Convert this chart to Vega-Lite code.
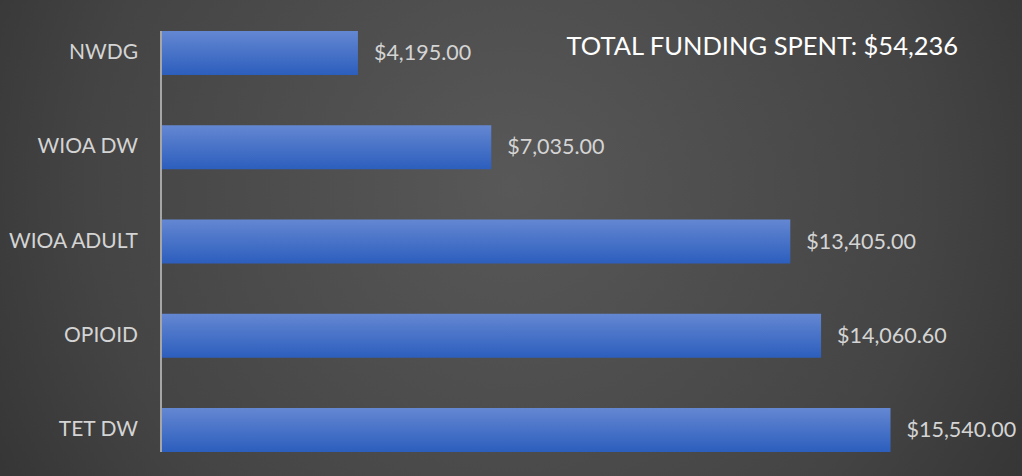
{
  "$schema": "https://vega.github.io/schema/vega-lite/v6.json",
  "width": 1022,
  "height": 476,
  "autosize": {"type": "none"},
  "padding": 0,
  "background": "#2a2a2a",
  "view": {
    "stroke": null,
    "fill": {
      "gradient": "radial",
      "x1": 0.5, "y1": 0.45, "r1": 0,
      "x2": 0.5, "y2": 0.45, "r2": 0.75,
      "stops": [
        {"offset": 0, "color": "#585858"},
        {"offset": 0.55, "color": "#444444"},
        {"offset": 1, "color": "#262626"}
      ]
    }
  },
  "data": {
    "values": [
      {"program": "NWDG", "amount": 4195.00},
      {"program": "WIOA DW", "amount": 7035.00},
      {"program": "WIOA ADULT", "amount": 13405.00},
      {"program": "OPIOID", "amount": 14060.60},
      {"program": "TET DW", "amount": 15540.00}
    ]
  },
  "encoding": {
    "y": {
      "field": "program",
      "type": "nominal",
      "sort": null,
      "scale": {"range": [6, 477], "paddingInner": 0.533, "paddingOuter": 0.2665},
      "axis": null
    }
  },
  "layer": [
    {
      "mark": {
        "type": "bar",
        "fill": {
          "gradient": "linear",
          "x1": 0, "y1": 0, "x2": 0, "y2": 1,
          "stops": [
            {"offset": 0, "color": "#6487d2"},
            {"offset": 1, "color": "#2c5ebd"}
          ]
        }
      },
      "encoding": {
        "x": {
          "field": "amount",
          "type": "quantitative",
          "scale": {"domain": [0, 18000], "range": [161, 1006], "nice": false},
          "axis": null
        }
      }
    },
    {
      "mark": {"type": "text", "align": "left", "baseline": "middle", "dx": 16, "dy": 1, "font": "Lato", "fontSize": 21.5, "color": "#d4d4d4"},
      "encoding": {
        "x": {"field": "amount", "type": "quantitative"},
        "text": {"field": "amount", "type": "quantitative", "format": "$,.2f"}
      }
    },
    {
      "mark": {"type": "text", "align": "right", "baseline": "middle", "dx": -23, "font": "Lato", "fontSize": 21, "color": "#d4d4d4"},
      "encoding": {
        "x": {"datum": 0, "type": "quantitative"},
        "text": {"field": "program"}
      }
    },
    {
      "data": {"values": [{"label": "TOTAL FUNDING SPENT: $54,236", "pos": 8640, "program": "NWDG"}]},
      "mark": {"type": "text", "align": "left", "baseline": "middle", "dy": -6, "font": "Lato", "fontSize": 25.5, "color": "#ffffff"},
      "encoding": {
        "x": {"field": "pos", "type": "quantitative"},
        "text": {"field": "label"}
      }
    },
    {
      "data": {"values": [{"v": 0}]},
      "mark": {"type": "rule", "color": "#a6a6a6", "strokeWidth": 2},
      "encoding": {
        "x": {"field": "v", "type": "quantitative"},
        "y": {"datum": "NWDG", "type": "nominal", "bandPosition": 0},
        "y2": {"datum": "TET DW", "bandPosition": 1}
      }
    }
  ]
}
